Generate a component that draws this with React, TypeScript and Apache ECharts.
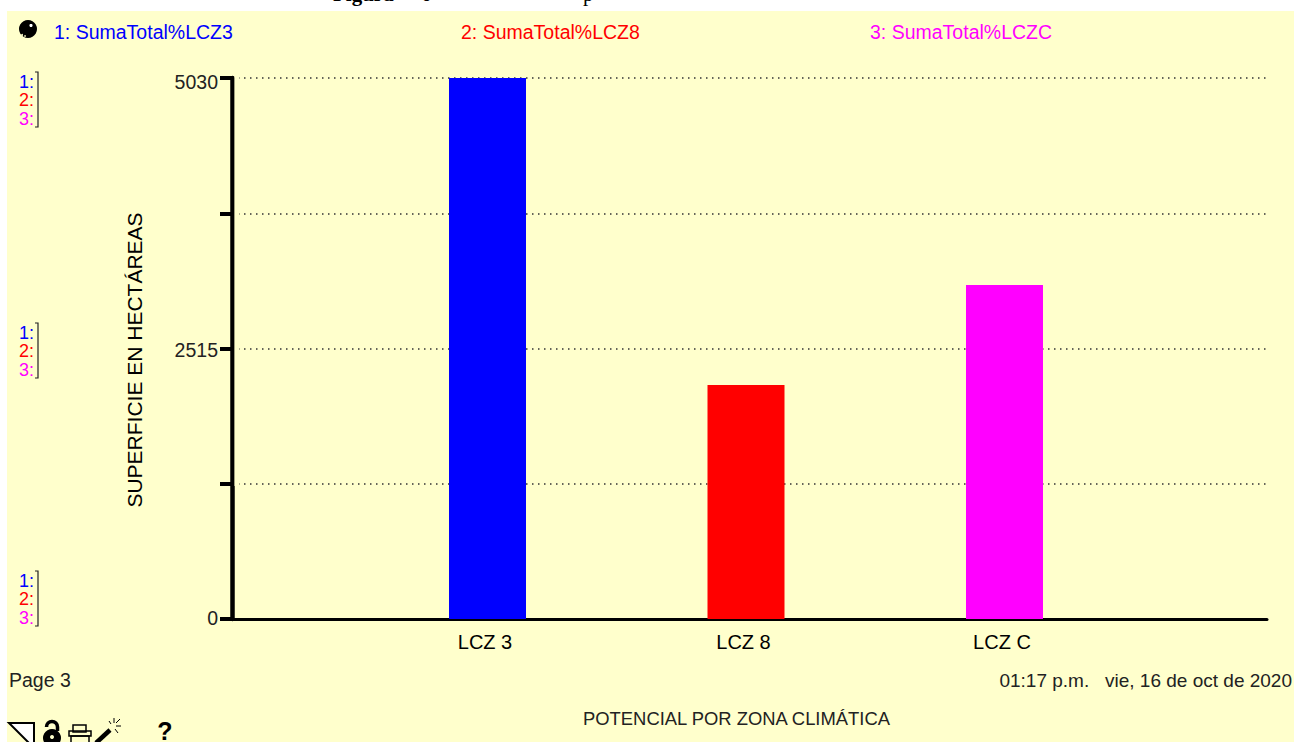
import React, { useEffect, useRef } from "react";
import * as echarts from "echarts";

const categories = ["LCZ 3", "LCZ 8", "LCZ C"];
const positions = [0, 1, 2];
const valuesLCZ3 = [5030];
const valuesLCZ8 = [2176];
const valuesLCZC = [3105];
const seriesNames = ["1: SumaTotal%LCZ3", "2: SumaTotal%LCZ8", "3: SumaTotal%LCZC"];
const seriesColors = ["#0000ff", "#ff0000", "#ff00ff"];
const yMax = 5030;
const yStep = 1257.5;
const yLabels = [0, 2515, 5030];
const yTitle = "SUPERFICIE EN HECTÁREAS";
const xTitle = "POTENCIAL POR ZONA CLIMÁTICA";
const pageLabel = "Page 3";
const stamp = "01:17 p.m.   vie, 16 de oct de 2020";
const FONT = "'Liberation Sans', Arial, sans-serif";
const PAPER = "#ffffcc";

const scaleGroup = (top: number) => {
  const rows = ["1:", "2:", "3:"];
  return [
    ...rows.map((t, i) => ({
      type: "text",
      x: 34,
      y: top + 9.5 + i * 18.7,
      style: {
        text: t,
        fill: seriesColors[i],
        font: `18px ${FONT}`,
        textAlign: "right",
        textVerticalAlign: "middle",
      },
    })),
    {
      type: "polyline",
      shape: { points: [[35, top], [38, top], [38, top + 55], [35, top + 55]] },
      style: { stroke: "#222", lineWidth: 1.2, fill: "none" },
    },
  ];
};

const icons = [
  { type: "circle", shape: { cx: 28, cy: 29, r: 9 }, style: { fill: "#000" } },
  { type: "circle", shape: { cx: 31, cy: 25.5, r: 1.6 }, style: { fill: "#fff" } },
  { type: "circle", shape: { cx: 22, cy: 35, r: 1 }, style: { fill: PAPER } },
  { type: "circle", shape: { cx: 25, cy: 36, r: 0.8 }, style: { fill: PAPER } },
  // page-turn corner
  {
    type: "polygon",
    shape: { points: [[9, 723], [34, 723], [34, 748]] },
    style: { fill: "#fff", stroke: "#000", lineWidth: 2 },
  },
  // lock
  { type: "arc", shape: { cx: 52, cy: 727, r: 5.5, startAngle: Math.PI, endAngle: 0 }, style: { stroke: "#000", lineWidth: 3.5, fill: "none" } },
  { type: "line", shape: { x1: 57.5, y1: 727, x2: 57.5, y2: 731 }, style: { stroke: "#000", lineWidth: 3.5 } },
  { type: "circle", shape: { cx: 52, cy: 738, r: 9 }, style: { fill: "#000" } },
  { type: "circle", shape: { cx: 52, cy: 737, r: 2 }, style: { fill: PAPER } },
  // printer
  { type: "rect", shape: { x: 73, y: 725, width: 13, height: 7 }, style: { fill: "none", stroke: "#000", lineWidth: 1.5 } },
  { type: "rect", shape: { x: 69, y: 731, width: 22, height: 5 }, style: { fill: "none", stroke: "#000", lineWidth: 1.5 } },
  { type: "rect", shape: { x: 71, y: 736, width: 18, height: 8 }, style: { fill: "none", stroke: "#000", lineWidth: 1.5 } },
  // wand
  { type: "line", shape: { x1: 96, y1: 743, x2: 110, y2: 730 }, style: { stroke: "#000", lineWidth: 4.5 } },
  { type: "line", shape: { x1: 114, y1: 718, x2: 114, y2: 723 }, style: { stroke: "#000", lineWidth: 1 } },
  { type: "line", shape: { x1: 116, y1: 726, x2: 121, y2: 726 }, style: { stroke: "#000", lineWidth: 1 } },
  { type: "line", shape: { x1: 116, y1: 723, x2: 120, y2: 719 }, style: { stroke: "#000", lineWidth: 1 } },
  { type: "line", shape: { x1: 115, y1: 729, x2: 118, y2: 733 }, style: { stroke: "#000", lineWidth: 1 } },
  { type: "line", shape: { x1: 109, y1: 721, x2: 111, y2: 724 }, style: { stroke: "#000", lineWidth: 1 } },
  {
    type: "text",
    x: 165,
    y: 731,
    style: { text: "?", fill: "#000", font: `bold 25px ${FONT}`, textAlign: "center", textVerticalAlign: "middle" },
  },
];

const labelAt = (text: string, x: number, y: number, fill: string, size: number, align = "left") => ({
  type: "text",
  x,
  y,
  style: { text, fill, font: `${size}px ${FONT}`, textAlign: align, textVerticalAlign: "middle" },
});

export default function App() {
  const ref = useRef<HTMLDivElement>(null);
  useEffect(() => {
    const chart = echarts.init(ref.current!, null, { renderer: "svg" });
    const makeBar = (name: string, idx: number, vals: number[]) => ({
      type: "bar",
      name,
      barWidth: 77,
      barGap: "-100%",
      itemStyle: { color: seriesColors[idx] },
      data: vals.map((v) => [positions[idx], v]),
    });
    chart.setOption({
      animation: false,
      backgroundColor: "#ffffff",
      textStyle: { fontFamily: FONT },
      grid: { left: 232, top: 78, width: 1035, height: 541, containLabel: false },
      xAxis: {
        type: "value",
        min: -0.9884,
        max: 3.0155,
        splitLine: { show: false },
        axisLine: { show: true, onZero: false, lineStyle: { color: "#000", width: 3 } },
        axisTick: { show: false },
        axisLabel: {
          show: true,
          customValues: positions,
          formatter: (v: number) => categories[Math.round(v)] ?? "",
          color: "#000",
          fontSize: 20,
          fontFamily: FONT,
          margin: 13,
          padding: [0, 5, 0, 0],
        },
      },
      yAxis: {
        type: "value",
        min: 0,
        max: yMax,
        interval: yStep,
        axisLine: { show: true, onZero: false, lineStyle: { color: "#000", width: 4.5 } },
        axisTick: { show: true, length: 12, inside: false, lineStyle: { color: "#000", width: 4 } },
        axisLabel: {
          color: "#000",
          fontSize: 19.5,
          fontFamily: FONT,
          margin: 14,
          formatter: (v: number) => {
            if (v === yMax) return `{top|${v}}`;
            if (v === 0) return `{low|${v}}`;
            return yLabels.includes(v) ? `{mid|${v}}` : "";
          },
          rich: {
            top: { fontSize: 19.5, fontFamily: FONT, color: "#222", padding: [7, 0, 0, 0] },
            mid: { fontSize: 19.5, fontFamily: FONT, color: "#222", padding: [3, 0, 0, 0] },
            low: { fontSize: 19.5, fontFamily: FONT, color: "#222", padding: [0, 0, 3, 0] },
          },
        },
        splitLine: { show: true, lineStyle: { color: "#333", width: 1.5, type: [1.5, 4.5] } },
      },
      series: [
        makeBar(seriesNames[0], 0, valuesLCZ3),
        makeBar(seriesNames[1], 1, valuesLCZ8),
        makeBar(seriesNames[2], 2, valuesLCZC),
      ],
      graphic: {
        elements: [
          { type: "rect", z: -10, silent: true, shape: { x: 7, y: 11, width: 1287, height: 731 }, style: { fill: PAPER } },
          { type: "rect", z: 1, silent: true, shape: { x: 234.5, y: 76, width: 4.5, height: 410 }, style: { fill: PAPER } },
          labelAt(seriesNames[0], 54, 32, seriesColors[0], 19.5),
          labelAt(seriesNames[1], 461, 32, seriesColors[1], 19.5),
          labelAt(seriesNames[2], 870, 32, seriesColors[2], 19.5),
          ...scaleGroup(72),
          ...scaleGroup(323),
          ...scaleGroup(571),
          {
            type: "text",
            x: 134,
            y: 360,
            rotation: Math.PI / 2,
            style: { text: yTitle, fill: "#000", font: `21px ${FONT}`, textAlign: "center", textVerticalAlign: "middle" },
          },
          labelAt(pageLabel, 9, 680, "#222", 19.5),
          labelAt(stamp, 1292, 680, "#222", 19, "right"),
          labelAt(xTitle, 736.5, 718, "#222", 18.4, "center"),
          ...icons,
          {
            type: "text",
            x: 333,
            y: -17,
            style: { text: "Figura", fill: "#000", font: `bold 21px 'Liberation Serif', serif` },
          },
          {
            type: "text",
            x: 421,
            y: -17,
            style: { text: "6", fill: "#000", font: `bold 21px 'Liberation Serif', serif` },
          },
          {
            type: "text",
            x: 583,
            y: -17,
            style: { text: "p", fill: "#000", font: `21px 'Liberation Serif', serif` },
          },
        ],
      },
    });
    return () => chart.dispose();
  }, []);
  return (
    <div
      ref={ref}
      style={{ position: "absolute", left: 0, top: 0, width: 1294, height: 742, overflow: "hidden" }}
    />
  );
}
